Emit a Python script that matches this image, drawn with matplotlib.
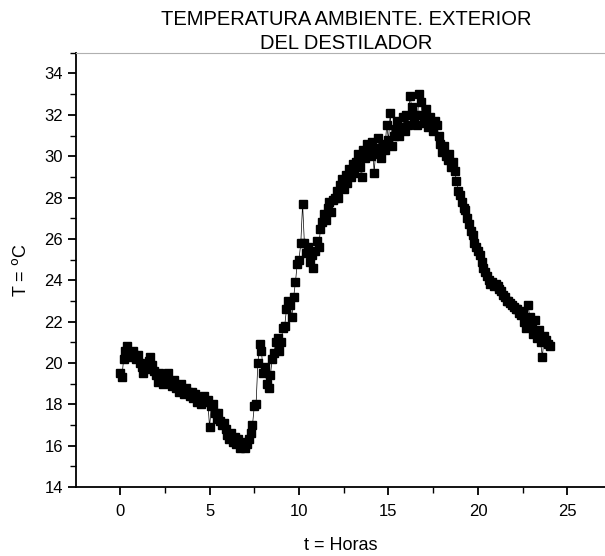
import numpy as np
import matplotlib.pyplot as plt
from matplotlib.ticker import MultipleLocator

plt.rcParams['font.family'] = ['Liberation Sans', 'DejaVu Sans']

# time in hours, readings every ~6 minutes
hours = [
    0.0, 0.1, 0.2, 0.3, 0.4, 0.5, 0.6, 0.7, 0.8, 0.9,
    1.0, 1.1, 1.2, 1.3, 1.4, 1.5, 1.6, 1.7, 1.8, 1.9,
    2.0, 2.1, 2.2, 2.3, 2.4, 2.5, 2.6, 2.7, 2.8, 2.9,
    3.0, 3.1, 3.2, 3.3, 3.4, 3.5, 3.6, 3.7, 3.8, 3.9,
    4.0, 4.1, 4.2, 4.3, 4.4, 4.5, 4.6, 4.7, 4.8, 4.9,
    5.0, 5.1, 5.2, 5.3, 5.4, 5.5, 5.6, 5.7, 5.8, 5.9,
    6.0, 6.1, 6.2, 6.3, 6.4, 6.5, 6.6, 6.7, 6.8, 6.9,
    7.0, 7.1, 7.2, 7.3, 7.4, 7.5, 7.6, 7.7, 7.8, 7.9,
    8.0, 8.1, 8.2, 8.3, 8.4, 8.5, 8.6, 8.7, 8.8, 8.9,
    9.0, 9.1, 9.2, 9.3, 9.4, 9.5, 9.6, 9.7, 9.8, 9.9,
    10.0, 10.1, 10.2, 10.3, 10.4, 10.5, 10.6, 10.7, 10.8, 10.9,
    11.0, 11.1, 11.2, 11.3, 11.4, 11.5, 11.6, 11.7, 11.8, 11.9,
    12.0, 12.1, 12.2, 12.3, 12.4, 12.5, 12.6, 12.7, 12.8, 12.9,
    13.0, 13.1, 13.2, 13.3, 13.4, 13.5, 13.6, 13.7, 13.8, 13.9,
    14.0, 14.1, 14.2, 14.3, 14.4, 14.5, 14.6, 14.7, 14.8, 14.9,
    15.0, 15.1, 15.2, 15.3, 15.4, 15.5, 15.6, 15.7, 15.8, 15.9,
    16.0, 16.1, 16.2, 16.3, 16.4, 16.5, 16.6, 16.7, 16.8, 16.9,
    17.0, 17.1, 17.2, 17.3, 17.4, 17.5, 17.6, 17.7, 17.8, 17.9,
    18.0, 18.1, 18.2, 18.3, 18.4, 18.5, 18.6, 18.7, 18.8, 18.9,
    19.0, 19.1, 19.2, 19.3, 19.4, 19.5, 19.6, 19.7, 19.8, 19.9,
    20.0, 20.1, 20.2, 20.3, 20.4, 20.5, 20.6, 20.7, 20.8, 20.9,
    21.0, 21.1, 21.2, 21.3, 21.4, 21.5, 21.6, 21.7, 21.8, 21.9,
    22.0, 22.1, 22.2, 22.3, 22.4, 22.5, 22.6, 22.7, 22.8, 22.9,
    23.0, 23.1, 23.2, 23.3, 23.4, 23.5, 23.6, 23.7, 23.8, 23.9,
    24.0,
]

temp = [
    19.5, 19.3, 20.2, 20.6, 20.8, 20.5, 20.3, 20.6, 20.4, 20.2,
    20.4, 20.0, 19.8, 19.5, 19.9, 19.7, 20.1, 20.3, 19.9, 19.6,
    19.4, 19.1, 19.5, 19.2, 19.0, 19.4, 19.2, 19.5, 19.1, 18.9,
    19.2, 18.8, 18.9, 18.6, 19.0, 18.7, 18.5, 18.8, 18.6, 18.4,
    18.6, 18.3, 18.5, 18.1, 18.3, 18.0, 18.2, 18.4, 18.1, 18.2,
    16.9, 17.9, 18.0, 17.6, 17.3, 17.6, 17.2, 17.0, 17.1, 16.8,
    16.5, 16.3, 16.6, 16.2, 16.4, 16.1, 16.3, 15.9, 16.2, 16.0,
    15.9, 16.1, 16.3, 16.6, 17.0, 17.9, 18.0, 20.0, 20.9, 20.6,
    19.5, 19.8, 19.0, 18.8, 19.4, 20.2, 20.5, 21.0, 21.2, 20.6,
    21.0, 21.7, 21.8, 22.6, 23.0, 22.8, 22.2, 23.2, 23.9, 24.8,
    25.0, 25.8, 27.7, 25.8, 25.3, 25.6, 24.9, 25.2, 24.6, 25.4,
    25.9, 25.6, 26.5, 26.8, 27.2, 26.9, 27.5, 27.8, 27.3, 27.9,
    28.0, 28.3, 28.0, 28.6, 28.9, 28.4, 29.1, 28.7, 29.4, 29.0,
    29.6, 29.2, 29.7, 30.1, 29.5, 29.0, 30.3, 29.9, 30.6, 30.2,
    30.0, 30.7, 29.2, 30.4, 30.9, 30.1, 29.9, 30.6, 30.3, 31.5,
    30.8, 32.1, 30.5, 31.0, 31.3, 31.7, 31.0, 31.4, 31.9, 31.2,
    32.0, 31.5, 32.9, 32.4, 31.6, 32.0, 31.5, 33.0, 32.6, 32.0,
    31.6, 32.3, 31.4, 31.9, 31.6, 31.2, 31.7, 31.5, 31.0, 30.6,
    30.2, 30.5, 30.0, 29.8, 30.1, 29.5, 29.7, 29.3, 28.8, 28.3,
    28.1, 27.8, 27.5, 27.4, 27.0, 26.7, 26.4, 26.2, 25.8, 25.6,
    25.4, 25.2, 24.9, 24.6, 24.4, 24.2, 24.0, 23.8, 23.9, 23.7,
    23.8, 23.7, 23.6, 23.5, 23.3, 23.2, 23.0, 23.0, 22.9, 22.8,
    22.7, 22.6, 22.6, 22.4, 22.3, 22.5, 22.0, 21.7, 22.8, 22.2,
    21.8, 21.4, 22.1, 21.2, 21.6, 21.0, 20.3, 21.3, 21.1, 20.9,
    20.8,
]

fig = plt.figure(figsize=(6.05, 5.56), dpi=100)
ax = fig.add_axes([0.126, 0.124, 0.874, 0.781])

ax.plot(hours, temp, color='black', lw=0.5, marker='s', ms=6,
        markerfacecolor='black', markeredgecolor='black')

ax.set_xlim(-2.45, 27.1)
ax.set_ylim(14, 35)
ax.xaxis.set_major_locator(MultipleLocator(5))
ax.xaxis.set_minor_locator(MultipleLocator(2.5))
ax.yaxis.set_major_locator(MultipleLocator(2))
ax.yaxis.set_minor_locator(MultipleLocator(1))
ax.tick_params(which='major', direction='out', length=6, width=1.3, labelsize=12)
ax.tick_params(which='minor', direction='out', length=4, width=1.0)
ax.tick_params(axis='x', which='major', pad=6)

ax.spines['right'].set_visible(False)
ax.spines['top'].set_color('#b0b0b0')
ax.spines['top'].set_linewidth(0.8)
ax.spines['left'].set_linewidth(1.3)
ax.spines['bottom'].set_linewidth(1.3)

ax.set_xlabel('t = Horas', fontsize=13, labelpad=13)
ax.set_ylabel('T = $^{\\rm o}$C', fontsize=13, labelpad=10)
ax.set_title('TEMPERATURA AMBIENTE. EXTERIOR\nDEL DESTILADOR', fontsize=14.5,
             x=0.511, pad=3, linespacing=1.3)

fig.savefig('out.png', dpi=100)
